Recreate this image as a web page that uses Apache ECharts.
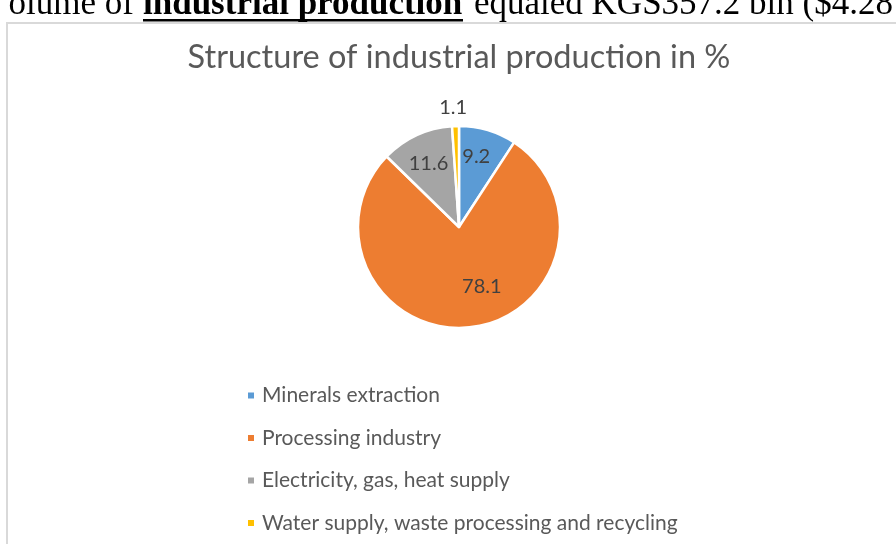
<!DOCTYPE html>
<html>
<head>
<meta charset="utf-8">
<script src="https://cdn.jsdelivr.net/npm/echarts@6/dist/echarts.min.js"></script>
<style>
html,body{margin:0;padding:0;background:#fff;}
#chart{width:896px;height:544px;}
</style>
</head>
<body>
<div id="chart"></div>
<script>
// Data
var categories = ['Minerals extraction', 'Processing industry', 'Electricity, gas, heat supply', 'Water supply, waste processing and recycling'];
var values = [9.2, 78.1, 11.6, 1.1];
var colors = ['#5B9BD5', '#ED7D31', '#A5A5A5', '#FFC000'];
var titleText = 'Structure of industrial production in %';

// Label nudges (style), kept apart from the data
var labelOffsets = [[2, -19], [17, 6], [-8, -15], [-4, -66]];

var chart = echarts.init(document.getElementById('chart'), null, {renderer: 'canvas'});

var pieData = categories.map(function (name, i) {
  return {
    name: name,
    value: values[i],
    itemStyle: {color: colors[i]},
    label: {offset: labelOffsets[i]}
  };
});

var serifFont = '"Liberation Serif", "Times New Roman", serif';

var option = {
  backgroundColor: '#ffffff',
  animation: false,
  title: {
    text: titleText,
    left: 459,
    textAlign: 'center',
    top: 41,
    padding: 0,
    textStyle: {
      fontFamily: 'Lato',
      fontWeight: 'normal',
      fontSize: 32.5,
      color: '#595959'
    }
  },
  legend: {
    orient: 'vertical',
    left: 246,
    top: 385,
    padding: 0,
    icon: 'rect',
    itemWidth: 8,
    itemHeight: 8,
    itemGap: 21.5,
    textStyle: {
      fontFamily: 'Lato',
      fontSize: 21,
      color: '#595959',
      lineHeight: 21,
      padding: [0, 0, 0, 2]
    },
    data: categories
  },
  graphic: [
    {
      type: 'rect',
      silent: true,
      shape: {x: 7, y: 23, width: 1000, height: 1000},
      style: {fill: 'none', stroke: '#d9d9d9', lineWidth: 2}
    },
    {
      type: 'text',
      silent: true,
      x: 134, y: 5,
      style: {
        text: 'olume of',
        font: 'normal 35px ' + serifFont,
        fill: '#000',
        align: 'right',
        verticalAlign: 'middle'
      }
    },
    {
      type: 'text',
      silent: true,
      x: 143, y: 5,
      style: {
        text: 'industrial production',
        font: 'bold 35px ' + serifFont,
        fill: '#000',
        align: 'left',
        verticalAlign: 'middle'
      }
    },
    {
      type: 'rect',
      silent: true,
      shape: {x: 143, y: 19, width: 320, height: 2.5},
      style: {fill: '#000'}
    },
    {
      type: 'text',
      silent: true,
      x: 474, y: 5,
      style: {
        text: 'equaled KGS357.2 bln ($4.28 bln)',
        font: 'normal 35px ' + serifFont,
        fill: '#000',
        align: 'left',
        verticalAlign: 'middle'
      }
    }
  ],
  series: [{
    type: 'pie',
    center: [459, 227],
    radius: [0, 101],
    startAngle: 90,
    clockwise: true,
    avoidLabelOverlap: false,
    itemStyle: {borderColor: '#ffffff', borderWidth: 2.5},
    label: {
      show: true,
      position: 'inside',
      formatter: function (p) { return String(p.value); },
      fontFamily: 'Lato',
      fontSize: 20,
      color: '#404040'
    },
    labelLine: {show: false},
    emphasis: {disabled: true},
    data: pieData
  }]
};

chart.setOption(option);
</script>
</body>
</html>
